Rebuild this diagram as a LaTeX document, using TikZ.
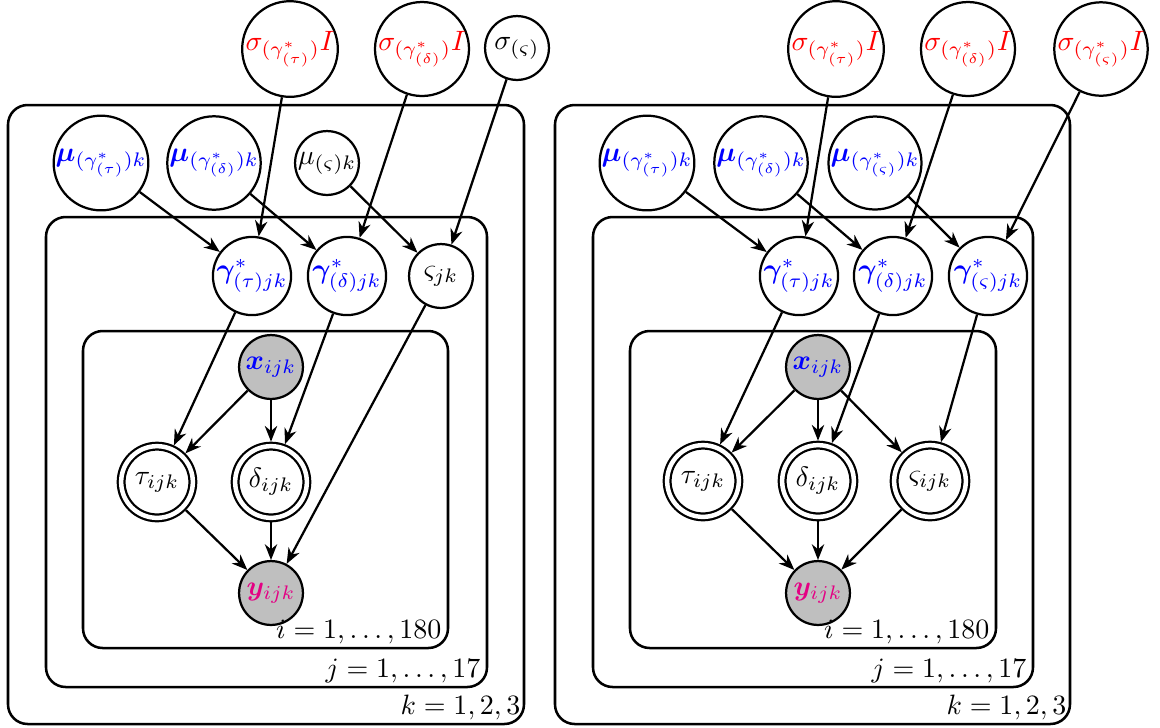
\documentclass[tikz,border=0pt]{standalone}
\usepackage{amsmath,amssymb,bm}
\usetikzlibrary{arrows.meta}
\definecolor{ypink}{RGB}{228,0,132}
\begin{document}
\begin{tikzpicture}[x=0.357pt,y=-0.357pt,
  nd/.style={circle,draw,fill=white,line width=0.8pt,inner sep=0pt,minimum size=22.8pt},
  ndm/.style={nd,minimum size=27.9pt},
  ndl/.style={nd,minimum size=33.2pt},
  obs/.style={nd,fill=gray!50},
  det/.style={nd,double,double distance=1.6pt,minimum size=25.6pt,outer sep=1.6pt},
  edge/.style={-{Stealth[length=5.6pt,width=4.4pt,inset=1.8pt]},line width=0.8pt},
  plate/.style={draw,line width=0.9pt,rounded corners=7pt},
  lab/.style={anchor=base east,inner sep=0pt}]
\useasboundingbox (0,0) rectangle (1160,727);
% ---------- plates ----------
\draw[plate] (8,105) rectangle (524,724);
\draw[plate] (46,217) rectangle (487,687);
\draw[plate] (83,331) rectangle (448,648);
\draw[plate] (555,105) rectangle (1070,724);
\draw[plate] (593,217) rectangle (1033,687);
\draw[plate] (630,331) rectangle (996,648);
% ---------- left model ----------
\node[ndl] (s1t) at (290,49) {\color{red}$\sigma_{(\gamma^*_{(\tau)})}I$};
\node[ndl] (s1d) at (422,49) {\color{red}$\sigma_{(\gamma^*_{(\delta)})}I$};
\node[nd]  (s1s) at (517,48) {$\sigma_{(\varsigma)}$};
\node[ndl] (m1t) at (101,163) {\color{blue}$\boldsymbol{\mu}_{(\gamma^*_{(\tau)})k}$};
\node[ndl] (m1d) at (214,163) {\color{blue}$\boldsymbol{\mu}_{(\gamma^*_{(\delta)})k}$};
\node[nd]  (m1s) at (327,163) {$\mu_{(\varsigma)k}$};
\node[ndm] (g1t) at (252,276) {\color{blue}$\boldsymbol{\gamma}^*_{(\tau)jk}$};
\node[ndm] (g1d) at (347,276) {\color{blue}$\boldsymbol{\gamma}^*_{(\delta)jk}$};
\node[nd]  (v1)  at (441,276) {$\varsigma_{jk}$};
\node[obs] (x1)  at (271,367) {\color{blue}$\boldsymbol{x}_{ijk}$};
\node[det] (t1)  at (157,482) {$\tau_{ijk}$};
\node[det] (d1)  at (271,482) {$\delta_{ijk}$};
\node[obs] (y1)  at (271,593) {\color{ypink}$\boldsymbol{y}_{ijk}$};
\draw[edge] (s1t) -- (g1t);
\draw[edge] (s1d) -- (g1d);
\draw[edge] (s1s) -- (v1);
\draw[edge] (m1t) -- (g1t);
\draw[edge] (m1d) -- (g1d);
\draw[edge] (m1s) -- (v1);
\draw[edge] (g1t) -- (t1);
\draw[edge] (g1d) -- (d1);
\draw[edge] (v1) -- (y1);
\draw[edge] (x1) -- (t1);
\draw[edge] (x1) -- (d1);
\draw[edge] (t1) -- (y1);
\draw[edge] (d1) -- (y1);
% ---------- right model ----------
\node[ndl] (s2t) at (836,49) {\color{red}$\sigma_{(\gamma^*_{(\tau)})}I$};
\node[ndl] (s2d) at (968,49) {\color{red}$\sigma_{(\gamma^*_{(\delta)})}I$};
\node[ndl] (s2s) at (1101,49) {\color{red}$\sigma_{(\gamma^*_{(\varsigma)})}I$};
\node[ndl] (m2t) at (647,163) {\color{blue}$\boldsymbol{\mu}_{(\gamma^*_{(\tau)})k}$};
\node[ndl] (m2d) at (761,163) {\color{blue}$\boldsymbol{\mu}_{(\gamma^*_{(\delta)})k}$};
\node[ndl] (m2s) at (875,163) {\color{blue}$\boldsymbol{\mu}_{(\gamma^*_{(\varsigma)})k}$};
\node[ndm] (g2t) at (799,276) {\color{blue}$\boldsymbol{\gamma}^*_{(\tau)jk}$};
\node[ndm] (g2d) at (893,276) {\color{blue}$\boldsymbol{\gamma}^*_{(\delta)jk}$};
\node[ndm] (g2s) at (988,276) {\color{blue}$\boldsymbol{\gamma}^*_{(\varsigma)jk}$};
\node[obs] (x2)  at (818,367) {\color{blue}$\boldsymbol{x}_{ijk}$};
\node[det] (t2)  at (703,481) {$\tau_{ijk}$};
\node[det] (d2)  at (818,481) {$\delta_{ijk}$};
\node[det] (v2)  at (930,481) {$\varsigma_{ijk}$};
\node[obs] (y2)  at (818,593) {\color{ypink}$\boldsymbol{y}_{ijk}$};
\draw[edge] (s2t) -- (g2t);
\draw[edge] (s2d) -- (g2d);
\draw[edge] (s2s) -- (g2s);
\draw[edge] (m2t) -- (g2t);
\draw[edge] (m2d) -- (g2d);
\draw[edge] (m2s) -- (g2s);
\draw[edge] (g2t) -- (t2);
\draw[edge] (g2d) -- (d2);
\draw[edge] (g2s) -- (v2);
\draw[edge] (x2) -- (t2);
\draw[edge] (x2) -- (d2);
\draw[edge] (x2) -- (v2);
\draw[edge] (t2) -- (y2);
\draw[edge] (d2) -- (y2);
\draw[edge] (v2) -- (y2);
% ---------- plate labels ----------
\node[lab] (li1) at (442,638) {$i=1,\ldots,180$};
\node[lab] (lj1) at (481,677) {$j=1,\ldots,17$};
\node[lab] (lk1) at (521,714) {$k=1,2,3$};
\node[lab] (li2) at (990,638) {$i=1,\ldots,180$};
\node[lab] (lj2) at (1027,677) {$j=1,\ldots,17$};
\node[lab] (lk2) at (1067,714) {$k=1,2,3$};
\end{tikzpicture}
\end{document}
